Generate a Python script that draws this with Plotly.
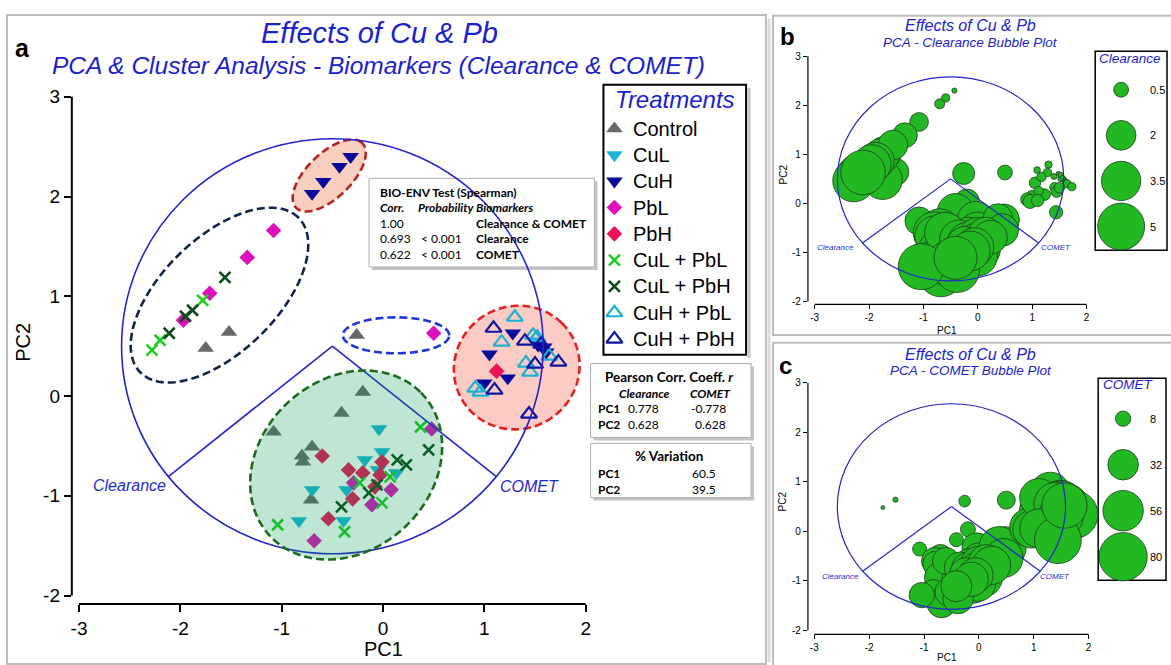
import numpy as np
import plotly.graph_objects as go

W, H = 1171, 665
def PX(x): return x / W
def PY(y): return 1 - y / H

ARIAL = "Liberation Sans, Arial, sans-serif"
CAL = "Lato, Carlito, sans-serif"
BLUE_T = "#1a22cc"

# ---------------- data (PCA scores per treatment) ----------------
treatments = ["Control", "CuL", "CuH", "PbL", "PbH",
              "CuL + PbL", "CuL + PbH", "CuH + PbL", "CuH + PbH"]

control_pc1 = [-1.52, -1.75, -0.26, -0.20, -0.41, -1.08, -0.70, -0.80, -0.79, -0.71]
control_pc2 = [0.64, 0.48, 0.61, 0.04, -0.17, -0.36, -0.51, -0.60, -0.66, -1.04]
control_clear = [1.7, 3.5, 1.1, 1.4, 3.0, 1.8, 3.5, 4.0, 3.6, 4.2]
control_comet = [0.9, 0.5, 4.7, 7.7, 6.7, 6.7, 20, 25, 22, 30]

cul_pc1 = [-0.04, -0.01, -0.18, -0.05, 0.13, -0.70, -0.36, -0.83, -0.39]
cul_pc2 = [-0.33, -0.56, -0.64, -0.74, -0.77, -0.94, -0.94, -1.25, -1.25]
cul_clear = [3.0, 3.2, 2.8, 3.5, 2.5, 4.0, 3.8, 5.0, 4.5]
cul_comet = [30, 35, 28, 40, 45, 35, 40, 25, 30]

cuh_pc1 = [-0.70, -0.59, -0.43, -0.32, 1.28, 1.05, 1.23, 1.00, 1.53, 1.59, 1.61]
cuh_pc2 = [2.03, 2.15, 2.30, 2.40, 0.63, 0.42, 0.18, 0.13, 0.51, 0.49, 0.44]
cuh_clear = [0.23, 0.15, 0.06, 0.0, 0.15, 0.3, 0.3, 0.4, 0.1, 0.05, 0.08]
cuh_comet = [0, 0, 0, 0, 60, 40, 55, 45, 70, 75, 65]

pbl_pc1 = [-1.08, -1.34, -1.71, -1.97, 0.50, -0.29, 0.08, -0.11, -0.68, 0.48]
pbl_pc2 = [1.66, 1.39, 1.03, 0.76, 0.63, -0.87, -0.94, -1.09, -1.45, -0.33]
pbl_clear = [0.8, 1.4, 2.5, 3.0, 0.5, 3.5, 3.0, 3.8, 4.5, 2.2]
pbl_comet = [0, 0, 0, 0, 11, 40, 50, 45, 30, 60]

pbh_pc1 = [-0.60, -0.34, -0.20, -0.01, -0.03, -0.08, -0.30, -0.54, 1.12]
pbh_pc2 = [-0.60, -0.74, -0.77, -0.66, -0.79, -0.91, -1.03, -1.23, 0.25]
pbh_clear = [3.8, 3.5, 3.2, 3.0, 3.3, 3.6, 4.0, 4.6, 0.2]
pbh_comet = [25, 35, 38, 42, 45, 40, 35, 28, 55]

culpbl_pc1 = [-1.78, -2.20, -2.28, 0.37, -0.23, 0.07, -0.01, -0.38, -1.04]
culpbl_pc2 = [0.96, 0.56, 0.46, -0.31, -0.87, -0.81, -1.07, -1.36, -1.29]
culpbl_clear = [2.8, 4.2, 4.0, 2.0, 3.5, 3.0, 3.7, 4.5, 4.8]
culpbl_comet = [0, 0, 0, 55, 38, 48, 40, 32, 22]

culpbh_pc1 = [-1.56, -1.88, -1.95, -2.11, 0.45, 0.14, 0.23, -0.06, -0.14, -0.41]
culpbh_pc2 = [1.19, 0.86, 0.80, 0.63, -0.54, -0.64, -0.69, -0.89, -0.97, -1.11]
culpbh_clear = [2.0, 3.2, 3.4, 4.5, 2.4, 2.8, 2.6, 3.4, 3.6, 4.2]
culpbh_comet = [0, 0, 0, 0, 52, 46, 50, 42, 40, 33]

cuhpbl_pc1 = [1.30, 1.17, 1.48, 1.52, 1.64, 1.41, 1.45, 0.91, 0.96]
cuhpbl_pc2 = [0.79, 0.54, 0.61, 0.59, 0.40, 0.33, 0.24, 0.08, 0.04]
cuhpbl_clear = [0.12, 0.2, 0.04, 0.05, 0.15, 0.2, 0.3, 0.4, 0.45]
cuhpbl_comet = [55, 45, 60, 62, 70, 58, 65, 50, 48]

cuhpbh_pc1 = [1.09, 1.40, 1.73, 1.50, 1.10, 1.44, 1.56]
cuhpbh_pc2 = [0.68, 0.55, 0.34, 0.32, 0.06, -0.18, 0.52]
cuhpbh_clear = [0.1, 0.08, 0.15, 0.25, 0.35, 0.4, 0.06]
cuhpbh_comet = [50, 65, 80, 68, 52, 75, 70]

pc1_data = [control_pc1, cul_pc1, cuh_pc1, pbl_pc1, pbh_pc1, culpbl_pc1, culpbh_pc1, cuhpbl_pc1, cuhpbh_pc1]
pc2_data = [control_pc2, cul_pc2, cuh_pc2, pbl_pc2, pbh_pc2, culpbl_pc2, culpbh_pc2, cuhpbl_pc2, cuhpbh_pc2]
clear_data = [control_clear, cul_clear, cuh_clear, pbl_clear, pbh_clear, culpbl_clear, culpbh_clear, cuhpbl_clear, cuhpbh_clear]
comet_data = [control_comet, cul_comet, cuh_comet, pbl_comet, pbh_comet, culpbl_comet, culpbh_comet, cuhpbl_comet, cuhpbh_comet]

# correlation circle & vectors
circle_center = (-0.5, 0.5)
circle_radius = 2.08
pearson_pc1 = {"Clearance": 0.778, "COMET": -0.778}
pearson_pc2 = {"Clearance": 0.628, "COMET": 0.628}
variation = {"PC1": 60.5, "PC2": 39.5}
bioenv_rows = [("1.00", "", "Clearance & COMET"), ("0.693", "< 0.001", "Clearance"), ("0.622", "< 0.001", "COMET")]

clear_legend = [0.5, 2, 3.5, 5]
comet_legend = [8, 32, 56, 80]

# ---------------- styles ----------------
styles = [
    dict(symbol="triangle-up", color="#686868", size=14.5, lw=0),
    dict(symbol="triangle-down", color="#1ab6da", size=14.5, lw=0),
    dict(symbol="triangle-down", color="#0a0a9a", size=14.5, lw=0),
    dict(symbol="diamond", color="#dd11bb", size=12, lw=0),
    dict(symbol="diamond", color="#ee1155", size=12, lw=0),
    dict(symbol="x-thin", color="#22cc22", size=11, lw=2.6),
    dict(symbol="x-thin", color="#0b4a18", size=11, lw=2.6),
    dict(symbol="triangle-up-open", color="#18b2d4", size=14, lw=2.2),
    dict(symbol="triangle-up-open", color="#0c16a0", size=14, lw=2.2),
]

def mk(st):
    return dict(symbol=st["symbol"], color=st["color"], size=st["size"],
                line=dict(width=st["lw"], color=st["color"]))

fig = go.Figure()

# ---------------- panel a ----------------
for name, xs, ys, st in zip(treatments, pc1_data, pc2_data, styles):
    fig.add_trace(go.Scatter(x=xs, y=ys, mode="markers", name=name, marker=mk(st),
                             xaxis="x", yaxis="y", showlegend=False, cliponaxis=False))

# legend (manual, hidden axis)
for i, (name, st) in enumerate(zip(treatments, styles)):
    fig.add_trace(go.Scatter(x=[11], y=[43.5 + i * 26.7], mode="markers", marker=mk(st),
                             xaxis="x4", yaxis="y4", showlegend=False, cliponaxis=False))

# ---------------- panels b & c (bubble plots) ----------------
all_pc1 = sum(pc1_data, [])
all_pc2 = sum(pc2_data, [])
all_clear = sum(clear_data, [])
all_comet = sum(comet_data, [])
BUB = "#22b822"
BUBL = "#1c3c1c"
REF_CL = 2 / 21.0 ** 2
REF_CO = 2 / 5.4 ** 2
def bubble(xs, ys, sizes, ref, xa, ya):
    fig.add_trace(go.Scatter(x=xs, y=ys, mode="markers", xaxis=xa, yaxis=ya,
                             marker=dict(size=sizes, sizemode="area", sizeref=ref, color=BUB,
                                         line=dict(width=0.8, color=BUBL), opacity=1),
                             showlegend=False, cliponaxis=False))
bubble(all_pc1, all_pc2, all_clear, REF_CL, "x2", "y2")
bubble(all_pc1, all_pc2, all_comet, REF_CO, "x3", "y3")
bubble([26] * 4, [39 + i * 46.3 for i in range(4)], clear_legend, REF_CL, "x5", "y5")
bubble([25] * 4, [41 + i * 46.7 for i in range(4)], comet_legend, REF_CO, "x6", "y6")

# ---------------- shapes ----------------
shapes = []
def rect_px(x0, y0, x1, y1, **kw):
    shapes.append(dict(type="rect", xref="paper", yref="paper",
                       x0=PX(x0), x1=PX(x1), y0=PY(y1), y1=PY(y0), **kw))

# panel frames
rect_px(6, 8, 767, 667, line=dict(color="#bdbdbd", width=2), fillcolor="rgba(0,0,0,0)", layer="below")
shapes.append(dict(type="line", xref="paper", yref="paper", x0=PX(770), x1=PX(770), y0=PY(665), y1=PY(12),
                   line=dict(color="#dcdcdc", width=3), layer="below"))
rect_px(774, 9, 1176, 333, line=dict(color="#bdbdbd", width=2), fillcolor="rgba(0,0,0,0)", layer="below")
rect_px(774, 341, 1176, 670, line=dict(color="#bdbdbd", width=2), fillcolor="rgba(0,0,0,0)", layer="below")

# table boxes with shadow
def box_px(x0, y0, x1, y1):
    rect_px(x0 + 3, y0 + 3, x1 + 3, y1 + 3, line=dict(width=0), fillcolor="#c4c4c4", layer="below")
    rect_px(x0, y0, x1, y1, line=dict(color="#b0b0b0", width=1), fillcolor="white", layer="below")
box_px(369, 174, 595, 264)
box_px(591, 362, 752, 437)
box_px(591, 443, 752, 498)
# treatments legend box
rect_px(604, 79, 747, 353, line=dict(color="black", width=2), fillcolor="white", layer="below")
shapes.append(dict(type="line", xref="paper", yref="paper", x0=PX(750), x1=PX(750), y0=PY(356), y1=PY(82),
                   line=dict(color="#c8c8c8", width=3), layer="below"))
# bubble legend boxes
rect_px(1097, 45, 1169, 247, line=dict(color="black", width=1.5), fillcolor="white", layer="below")
rect_px(1100, 377, 1168, 582, line=dict(color="black", width=1.5), fillcolor="white", layer="below")

# axis lines (SigmaPlot style, offset)
for xa, ya, w in [("x", "y", 2), ("x2", "y2", 1.2), ("x3", "y3", 1.2)]:
    shapes.append(dict(type="line", xref=xa, yref=ya + " domain", x0=-3, x1=2, y0=0, y1=0,
                       line=dict(color="black", width=w)))
    shapes.append(dict(type="line", xref=xa + " domain", yref=ya, x0=0, x1=0, y0=-2, y1=3,
                       line=dict(color="black", width=w)))

# correlation circle and biomarker vectors
cx, cy = circle_center
r = circle_radius
CIRC = "#2424cc"
for xa, ya, w in [("x", "y", 1.6), ("x2", "y2", 1.2), ("x3", "y3", 1.2)]:
    shapes.append(dict(type="circle", xref=xa, yref=ya, x0=cx - r, x1=cx + r, y0=cy - r, y1=cy + r,
                       line=dict(color=CIRC, width=w), layer="above"))
    for bm in ["Clearance", "COMET"]:
        ex = cx - r * pearson_pc1[bm]
        ey = cy - r * pearson_pc2[bm]
        shapes.append(dict(type="line", xref=xa, yref=ya, x0=cx, y0=cy, x1=ex, y1=ey,
                           line=dict(color=CIRC, width=w), layer="above"))

# cluster ellipses (panel a)
def ellipse_path(ecx, ecy, a, b, ang, n=140):
    t = np.linspace(0, 2 * np.pi, n)
    th = np.radians(ang)
    xs = ecx + a * np.cos(t) * np.cos(th) - b * np.sin(t) * np.sin(th)
    ys = ecy + a * np.cos(t) * np.sin(th) + b * np.sin(t) * np.cos(th)
    return "M " + " L ".join(f"{x:.4f},{y:.4f}" for x, y in zip(xs, ys)) + " Z"

clusters = [
    # center, a, b, angle, line color, fill, layer
    ((-1.614, 1.012), 1.10, 0.57, 45, "#10244f", "rgba(0,0,0,0)", "below"),
    ((-0.531, 2.211), 0.46, 0.22, 45, "#b3261e", "#f8cfbe", "below"),
    ((0.128, 0.609), 0.525, 0.18, 0, "#1f36d6", "rgba(0,0,0,0)", "below"),
    ((-0.364, -0.691), 1.035, 0.85, 45, "#1e6b1e", "rgba(0,150,80,0.25)", "above"),
    ((1.319, 0.286), 0.63, 0.61, 45, "#e52222", "#fbcbc4", "below"),
]
for (ecx, ecy), a, b, ang, lc, fc, lay in clusters:
    shapes.append(dict(type="path", xref="x", yref="y", path=ellipse_path(ecx, ecy, a, b, ang),
                       line=dict(color=lc, width=2.6, dash="8px,4px"), fillcolor=fc, layer=lay))

# ---------------- annotations ----------------
anns = []
def ann(text, x, y, size, color="black", xanchor="center", family=ARIAL, angle=0,
        xref="paper", yref="paper"):
    if xref == "paper":
        x = PX(x)
    if yref == "paper":
        y = PY(y)
    anns.append(dict(text=text, x=x, y=y, xref=xref, yref=yref, showarrow=False,
                     xanchor=xanchor, yanchor="middle", textangle=angle,
                     font=dict(size=size, color=color, family=family)))

# panel a titles
ann("<b>a</b>", 22, 42, 25)
ann("<i>Effects of Cu & Pb</i>", 379, 26, 29, BLUE_T)
ann("<i>PCA & Cluster Analysis - Biomarkers (Clearance & COMET)</i>", 378, 59, 24.5, BLUE_T)
ann("PC1", 383, 652, 20)
ann("PC2", 22, 340, 20, angle=-90)
ann("<i>Clearance</i>", -2.498, -0.895, 16, "#1f2ccc", xref="x", yref="y")
ann("<i>COMET</i>", 1.447, -0.905, 16, "#1f2ccc", xref="x", yref="y")

# legend text
ann("<i>Treatments</i>", 71.5, 13.5, 24, BLUE_T, xref="x4", yref="y4")
for i, name in enumerate(treatments):
    ann(name, 28, 43.5 + i * 26.7, 20, xanchor="left", xref="x4", yref="y4")

# BIO-ENV table
TS = 12
ann("<b>BIO-ENV Test (Spearman)</b>", 378, 188, TS, xanchor="left", family=CAL)
ann("<b><i>Corr.</i></b>", 378, 204, TS, xanchor="left", family=CAL)
ann("<b><i>Probability</i></b>", 416, 204, TS, xanchor="left", family=CAL)
ann("<b><i>Biomarkers</i></b>", 474, 204, TS, xanchor="left", family=CAL)
for i, (c, p, bm) in enumerate(bioenv_rows):
    yy = 219.5 + i * 16
    ann(c, 378, yy, TS, xanchor="left", family=CAL)
    if p:
        ann(p, 419, yy, TS, xanchor="left", family=CAL)
    ann("<b>" + bm + "</b>", 474, yy, TS, xanchor="left", family=CAL)

# Pearson table
ann("<b>Pearson Corr. Coeff. <i>r</i></b>", 670, 376, 13.5, family=CAL)
ann("<b><i>Clearance</i></b>", 645, 392, TS, family=CAL)
ann("<b><i>COMET</i></b>", 711, 392, TS, family=CAL)
for i, pc in enumerate(["PC1", "PC2"]):
    yy = 408 + i * 16
    src = pearson_pc1 if pc == "PC1" else pearson_pc2
    ann("<b>" + pc + "</b>", 597, yy, TS, xanchor="left", family=CAL)
    ann(f"{src['Clearance']:.3f}", 627, yy, TS, xanchor="left", family=CAL)
    ann(f"{src['COMET']:.3f}", 729, yy, TS, xanchor="right", family=CAL)

# % variation
ann("<b>% Variation</b>", 670, 456, 13.5, family=CAL)
for i, pc in enumerate(["PC1", "PC2"]):
    yy = 474 + i * 16
    ann("<b>" + pc + "</b>", 597, yy, TS, xanchor="left", family=CAL)
    ann(f"{variation[pc]:.1f}", 719, yy, TS, xanchor="right", family=CAL)

# panel b
ann("<b>b</b>", 789, 30, 24)
ann("<i>Effects of Cu & Pb</i>", 972, 19, 16, BLUE_T)
ann("<i>PCA - Clearance Bubble Plot</i>", 972, 36, 13.5, BLUE_T)
ann("PC1", 948, 328, 10)
ann("PC2", 784, 170, 10, angle=-90)
ann("<i>Clearance</i>", -2.61, -0.9, 8, "#1f2ccc", xref="x2", yref="y2")
ann("<i>COMET</i>", 1.43, -0.9, 8, "#1f2ccc", xref="x2", yref="y2")
ann("<i>Clearance</i>", 35, 7, 13.5, BLUE_T, xref="x5", yref="y5")
for i, v in enumerate(clear_legend):
    ann(f"{v:g}", 53, 39 + i * 46.3, 11, xanchor="left", xref="x5", yref="y5")

# panel c
ann("<b>c</b>", 787, 364, 24)
ann("<i>Effects of Cu & Pb</i>", 972, 353, 16, BLUE_T)
ann("<i>PCA - COMET Bubble Plot</i>", 972, 369, 13.5, BLUE_T)
ann("PC1", 948, 660, 10)
ann("PC2", 783, 502, 10, angle=-90)
ann("<i>Clearance</i>", -2.53, -0.92, 8, "#1f2ccc", xref="x3", yref="y3")
ann("<i>COMET</i>", 1.39, -0.92, 8, "#1f2ccc", xref="x3", yref="y3")
ann("<i>COMET</i>", 30, 6.5, 13.5, BLUE_T, xref="x6", yref="y6")
for i, v in enumerate(comet_legend):
    ann(f"{v:g}", 50, 41 + i * 46.7, 11, xanchor="left", xref="x6", yref="y6")

# ---------------- axes ----------------
def main_axis(domain, rng, tickvals, size, ticklen, tw, anchor):
    return dict(domain=domain, range=rng, tickvals=tickvals, ticktext=[str(v) for v in tickvals],
                ticks="outside", ticklen=ticklen,
                tickwidth=tw, tickcolor="black", showline=False, showgrid=False, zeroline=False,
                tickfont=dict(size=size, color="black", family=ARIAL), anchor=anchor, fixedrange=True)

def hidden(domain, rng, anchor):
    return dict(domain=domain, range=rng, visible=False, showgrid=False, zeroline=False,
                anchor=anchor, fixedrange=True)

layout = dict(
    width=W, height=H, margin=dict(l=0, r=0, t=0, b=0),
    paper_bgcolor="white", plot_bgcolor="rgba(0,0,0,0)", showlegend=False,
    xaxis=main_axis([PX(71), PX(590)], [-3.071, 2.037], [-3, -2, -1, 0, 1, 2], 19, 7, 2, "y"),
    yaxis=main_axis([PY(606), PY(88)], [-2.083, 3.031], [-2, -1, 0, 1, 2, 3], 19, 7, 2, "x"),
    xaxis2=main_axis([PX(809), PX(1090)], [-3.123, 2.03], [-3, -2, -1, 0, 1, 2], 10, 4, 1.2, "y2"),
    yaxis2=main_axis([PY(302), PY(48)], [-2.06, 3.04], [-2, -1, 0, 1, 2, 3], 10, 4, 1.2, "x2"),
    xaxis3=main_axis([PX(809), PX(1092)], [-3.116, 2.029], [-3, -2, -1, 0, 1, 2], 10, 4, 1.2, "y3"),
    yaxis3=main_axis([PY(637), PY(380)], [-2.086, 3.034], [-2, -1, 0, 1, 2, 3], 10, 4, 1.2, "x3"),
    xaxis4=hidden([PX(604), PX(747)], [0, 143], "y4"),
    yaxis4=hidden([PY(353), PY(80)], [273, 0], "x4"),
    xaxis5=hidden([PX(1097), PX(1171)], [0, 74], "y5"),
    yaxis5=hidden([PY(247), PY(45)], [202, 0], "x5"),
    xaxis6=hidden([PX(1100), PX(1171)], [0, 71], "y6"),
    yaxis6=hidden([PY(582), PY(377)], [205, 0], "x6"),
    shapes=shapes, annotations=anns,
)
fig.update_layout(**layout)
fig.write_html("out.html")
